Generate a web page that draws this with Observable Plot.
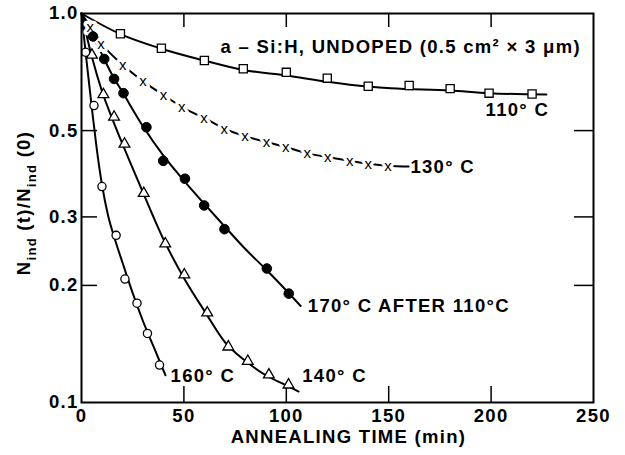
<!DOCTYPE html>
<html><head><meta charset="utf-8">
<script src="https://cdn.jsdelivr.net/npm/d3@7"></script>
<script src="https://cdn.jsdelivr.net/npm/@observablehq/plot@0.6"></script>
<style>
html,body{margin:0;padding:0;background:#fff;}
</style></head><body><div id="chart"></div>
<script>
// ---- axes ----
const xTicks = [0, 50, 100, 150, 200, 250];
const yTicks = [0.1, 0.2, 0.3, 0.5, 1.0];
const innerXTicks = [50, 100, 150, 200];
const innerYTicks = [0.2, 0.3, 0.5];
const xLabel = "ANNEALING TIME (min)";
const yLabelParts = ["N", "ind", " (t)/N", "ind", " (0)"];

// ---- 110 °C (open squares) ----
const t110 = [19, 39, 60, 79, 100, 120, 140, 160, 180, 199, 220];
const v110 = [0.887, 0.814, 0.757, 0.721, 0.706, 0.682, 0.650, 0.653, 0.641, 0.624, 0.621];
const fitT110 = [0, 19, 39, 60, 79, 100, 120, 140, 151, 180, 199, 227];
const fitV110 = [1.0, 0.885, 0.812, 0.757, 0.716, 0.693, 0.668, 0.649, 0.642, 0.634, 0.624, 0.619];

// ---- 130 °C (x marks) ----
const t130 = [4.6, 9.9, 20.5, 30.3, 40.4, 49.3, 60.1, 70, 80.1, 90.7, 100.1, 110.5, 120.5, 131.3, 140.3, 150];
const v130 = [0.920, 0.836, 0.735, 0.668, 0.615, 0.574, 0.538, 0.505, 0.483, 0.467, 0.453, 0.437, 0.427, 0.418, 0.411, 0.406];
const fitT130 = [0, 4.6, 9.9, 20.5, 30.3, 40.4, 49.3, 60.1, 70, 80.1, 90.7, 100.1, 110.5, 120.5, 131.3, 140.3, 150, 159.7];
const fitV130 = [1.0, 0.920, 0.836, 0.735, 0.668, 0.615, 0.574, 0.538, 0.505, 0.483, 0.467, 0.453, 0.437, 0.427, 0.418, 0.411, 0.406, 0.404];

// ---- 170 °C after 110 °C (filled circles) ----
const t170 = [5.6, 11.1, 15.9, 20.5, 31.7, 39.9, 50.5, 59.9, 69.8, 90.5, 101.2];
const v170 = [0.873, 0.764, 0.679, 0.624, 0.510, 0.418, 0.376, 0.321, 0.279, 0.221, 0.1905];
const fitT170 = [0, 5, 10, 15, 20, 30, 40, 50, 60, 70, 80, 90, 100, 107];
const fitV170 = [1.0, 0.885, 0.785, 0.695, 0.628, 0.513, 0.431, 0.372, 0.324, 0.283, 0.248, 0.220, 0.194, 0.177];

// ---- 140 °C (open triangles) ----
const t140 = [5.1, 10.7, 15.9, 21, 30.4, 40.9, 50.2, 61.4, 71.7, 81.2, 91.5, 101.1];
const v140 = [0.782, 0.619, 0.542, 0.462, 0.345, 0.256, 0.213, 0.170, 0.139, 0.1277, 0.1178, 0.111];
const fitT140 = [0, 5, 10, 15, 20, 30, 40, 50, 60, 70, 80, 90, 100, 106];
const fitV140 = [1.0, 0.776, 0.631, 0.537, 0.462, 0.347, 0.263, 0.209, 0.172, 0.143, 0.128, 0.1175, 0.1107, 0.1067];

// ---- 160 °C (open circles) ----
const t160 = [2.0, 6.1, 10, 16.9, 21.2, 27.1, 32.2, 38.1];
const v160 = [0.795, 0.580, 0.359, 0.269, 0.2077, 0.180, 0.1505, 0.1248];
const fitT160 = [0, 2, 5, 8, 10, 13, 16, 20, 25, 30, 35, 41];
const fitV160 = [1.0, 0.794, 0.575, 0.427, 0.363, 0.302, 0.266, 0.229, 0.191, 0.162, 0.140, 0.1175];

// ---- annotations (anchored in data units) ----
const labelText = ["a – Si:H, UNDOPED (0.5 cm² × 3 μm)", "110° C", "130° C", "170° C AFTER 110°C", "140° C", "160° C"];
const labelT = [67.9, 197.3, 160.6, 110.5, 107.8, 43.5];
const labelV = [0.819, 0.563, 0.402, 0.1765, 0.1166, 0.1172];

const zip = (ts, vs) => ts.map((t, i) => ({t, v: vs[i]}));
const labels = labelText.map((s, i) => ({s, t: labelT[i], v: labelV[i]}));

const W = 625, H = 455, mL = 81, mR = 32, mT = 13, mB = 53;
const pw = W - mL - mR, ph = H - mT - mB;
const FONT = "'Liberation Sans', Arial, Helvetica, sans-serif";

const lineOpts = {x: "t", y: "v", curve: "monotone-x", stroke: "black", strokeWidth: 2};

const chart = Plot.plot({
  width: W, height: H,
  marginLeft: mL, marginRight: mR, marginTop: mT, marginBottom: mB,
  style: {background: "white", color: "black", fontFamily: FONT, fontSize: "18.5px", fontWeight: "bold", letterSpacing: "1.3px"},
  x: {domain: [0, 250]},
  y: {type: "log", domain: [0.1, 1.0]},
  marks: [
    Plot.axisX({ticks: xTicks, tickSize: 0, tickPadding: 6, tickFormat: d => String(d), label: null, fontSize: 18.5, fontWeight: "bold"}),
    Plot.axisY({ticks: yTicks, tickSize: 0, tickPadding: 3, tickFormat: d => d.toFixed(1), label: null, fontSize: 18.5, fontWeight: "bold"}),
    Plot.ruleX(innerXTicks, {x: d => d, insetTop: ph - 16, strokeWidth: 1.5}),
    Plot.ruleX(innerXTicks, {x: d => d, insetBottom: ph - 14, strokeWidth: 1.5}),
    Plot.ruleY(innerYTicks, {y: d => d, insetRight: pw - 16, strokeWidth: 1.5}),
    Plot.ruleY(innerYTicks, {y: d => d, insetLeft: pw - 19, strokeWidth: 1.5}),
    Plot.line(zip(fitT110, fitV110), lineOpts),
    Plot.line(zip(fitT130, fitV130), lineOpts),
    Plot.line(zip(fitT170, fitV170), lineOpts),
    Plot.line(zip(fitT140, fitV140), lineOpts),
    Plot.line(zip(fitT160, fitV160), lineOpts),
    Plot.dot(zip(t110, v110), {x: "t", y: "v", symbol: "square", r: 4.6, fill: "white", stroke: "black", strokeWidth: 1.3}),
    Plot.text(zip(t130, v130), {x: "t", y: "v", text: () => "x", fontSize: 15, fontWeight: "normal", fill: "black", stroke: "white", strokeWidth: 6.5}),
    Plot.dot(zip(t170, v170), {x: "t", y: "v", r: 4.8, fill: "black", stroke: "black", strokeWidth: 1}),
    Plot.dot(zip(t140, v140), {x: "t", y: "v", symbol: "triangle", r: 4, fill: "white", stroke: "black", strokeWidth: 1.3}),
    Plot.dot(zip(t160, v160), {x: "t", y: "v", r: 4.1, fill: "white", stroke: "black", strokeWidth: 1.3}),
    Plot.text(labels, {x: "t", y: "v", text: "s", textAnchor: "start", fontSize: 18.5, fontWeight: "bold", fill: "black"}),
    Plot.text([xLabel], {frameAnchor: "bottom", dx: 11, dy: 40, text: d => d, fontSize: 18.5, fontWeight: "bold", fill: "black"}),
    Plot.frame({stroke: "black", strokeWidth: 2})
  ]
});

document.getElementById("chart").appendChild(chart);

const svg = d3.select(chart);
const yl = svg.append("text")
  .attr("transform", "translate(30,203) rotate(-90)")
  .attr("text-anchor", "middle")
  .attr("fill", "black")
  .style("font-family", FONT)
  .style("font-weight", "bold")
  .style("font-size", "18.5px")
  .style("letter-spacing", "1.3px");
yLabelParts.forEach((p, i) => {
  const sub = i % 2 === 1;
  const ts = yl.append("tspan").text(p);
  if (sub) ts.attr("dy", 6).style("font-size", "13px");
  else if (i > 0) ts.attr("dy", -6);
});
</script>
</body></html>
